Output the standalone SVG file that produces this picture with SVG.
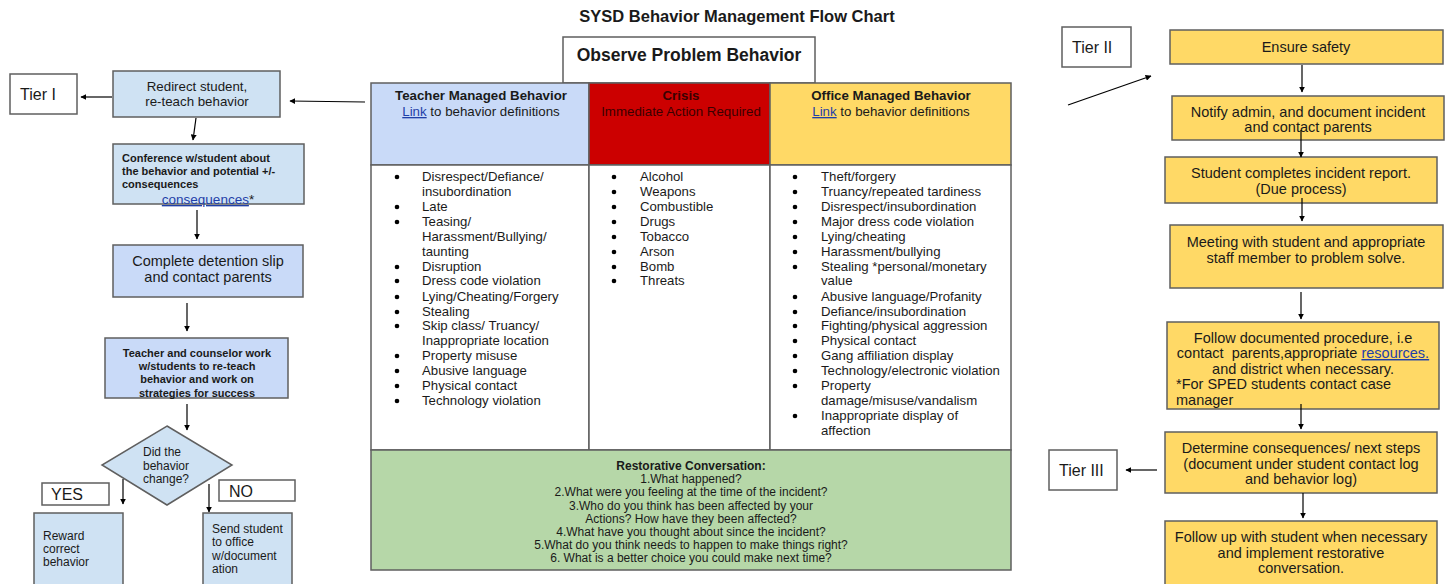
<svg xmlns="http://www.w3.org/2000/svg" width="1454" height="584" viewBox="0 0 1454 584">
<defs>
<marker id="ah" viewBox="0 0 10 10" refX="9" refY="5" markerWidth="6" markerHeight="6" orient="auto" markerUnits="userSpaceOnUse">
<path d="M0,0 L10,5 L0,10 z" fill="#000"/>
</marker>
</defs>
<style>
text{font-family:"Liberation Sans",Arial,sans-serif;fill:#1a1a1a}
.box{stroke:#5f5f5f;stroke-width:1.5}
.wb{fill:#fff}
.lb{fill:#cfe2f3}
.mb{fill:#c9daf8}
.yb{fill:#ffd966}
.t12{font-size:12px}
.t11{font-size:11px}
.t13{font-size:13.3px}
.t14{font-size:14.5px}
.t16{font-size:16px}
.lst{font-size:13.2px}
.c{text-anchor:middle}
.b{font-weight:bold}
.lnk{fill:#1f3fa8;text-decoration:underline}
.dot{fill:#000}
.con line,.con path{stroke:#000;stroke-width:1.2;fill:none;marker-end:url(#ah)}
</style>
<rect width="1454" height="584" fill="#fff"/>
<text x="737" y="22" class="c b" style="font-size:16.5px">SYSD Behavior Management Flow Chart</text>

<g id="observe">
<rect x="563" y="37" width="252" height="46" class="box wb"/>
<text x="689" y="61" class="c b" style="font-size:17.5px">Observe Problem Behavior</text>
</g>

<g id="table">
<rect x="371" y="83" width="218" height="82" fill="#c9daf8" class="box"/>
<rect x="589" y="83" width="181" height="82" fill="#cc0000" class="box"/>
<rect x="770" y="83" width="241" height="82" fill="#ffd966" class="box"/>
<rect x="371" y="165" width="218" height="285" class="box wb"/>
<rect x="589" y="165" width="181" height="285" class="box wb"/>
<rect x="770" y="165" width="241" height="285" class="box wb"/>
<text x="481" y="100" class="c b t13">Teacher Managed Behavior</text>
<text x="481" y="116" class="c t13"><tspan class="lnk">Link</tspan> to behavior definitions</text>
<text x="681" y="100" class="c b t13" style="fill:#3a0000">Crisis</text>
<text x="681" y="116" class="c t13" style="fill:#3a0000">Immediate Action Required</text>
<text x="891" y="100" class="c b t13">Office Managed Behavior</text>
<text x="891" y="116" class="c t13"><tspan class="lnk">Link</tspan> to behavior definitions</text>
</g>

<g id="teacher-list" class="lst">
<circle cx="397" cy="177" r="2.3" class="dot"/><text x="422" y="181">Disrespect/Defiance/</text>
<text x="422" y="196">insubordination</text>
<circle cx="397" cy="207" r="2.3" class="dot"/><text x="422" y="211">Late</text>
<circle cx="397" cy="222" r="2.3" class="dot"/><text x="422" y="226">Teasing/</text>
<text x="422" y="241">Harassment/Bullying/</text>
<text x="422" y="256">taunting</text>
<circle cx="397" cy="267" r="2.3" class="dot"/><text x="422" y="271">Disruption</text>
<circle cx="397" cy="281" r="2.3" class="dot"/><text x="422" y="285">Dress code violation</text>
<circle cx="397" cy="297" r="2.3" class="dot"/><text x="422" y="301">Lying/Cheating/Forgery</text>
<circle cx="397" cy="312" r="2.3" class="dot"/><text x="422" y="316">Stealing</text>
<circle cx="397" cy="326" r="2.3" class="dot"/><text x="422" y="330">Skip class/ Truancy/</text>
<text x="422" y="345">Inappropriate location</text>
<circle cx="397" cy="356" r="2.3" class="dot"/><text x="422" y="360">Property misuse</text>
<circle cx="397" cy="371" r="2.3" class="dot"/><text x="422" y="375">Abusive language</text>
<circle cx="397" cy="386" r="2.3" class="dot"/><text x="422" y="390">Physical contact</text>
<circle cx="397" cy="401" r="2.3" class="dot"/><text x="422" y="405">Technology violation</text>
</g>

<g id="crisis-list" class="lst">
<circle cx="614" cy="177" r="2.3" class="dot"/><text x="640" y="181">Alcohol</text>
<circle cx="614" cy="192" r="2.3" class="dot"/><text x="640" y="196">Weapons</text>
<circle cx="614" cy="207" r="2.3" class="dot"/><text x="640" y="211">Combustible</text>
<circle cx="614" cy="222" r="2.3" class="dot"/><text x="640" y="226">Drugs</text>
<circle cx="614" cy="237" r="2.3" class="dot"/><text x="640" y="241">Tobacco</text>
<circle cx="614" cy="252" r="2.3" class="dot"/><text x="640" y="256">Arson</text>
<circle cx="614" cy="267" r="2.3" class="dot"/><text x="640" y="271">Bomb</text>
<circle cx="614" cy="281" r="2.3" class="dot"/><text x="640" y="285">Threats</text>
</g>

<g id="office-list" class="lst">
<circle cx="795" cy="177" r="2.3" class="dot"/><text x="821" y="181">Theft/forgery</text>
<circle cx="795" cy="192" r="2.3" class="dot"/><text x="821" y="196">Truancy/repeated tardiness</text>
<circle cx="795" cy="207" r="2.3" class="dot"/><text x="821" y="211">Disrespect/insubordination</text>
<circle cx="795" cy="222" r="2.3" class="dot"/><text x="821" y="226">Major dress code violation</text>
<circle cx="795" cy="237" r="2.3" class="dot"/><text x="821" y="241">Lying/cheating</text>
<circle cx="795" cy="252" r="2.3" class="dot"/><text x="821" y="256">Harassment/bullying</text>
<circle cx="795" cy="267" r="2.3" class="dot"/><text x="821" y="271">Stealing *personal/monetary</text>
<text x="821" y="285">value</text>
<circle cx="795" cy="297" r="2.3" class="dot"/><text x="821" y="301">Abusive language/Profanity</text>
<circle cx="795" cy="312" r="2.3" class="dot"/><text x="821" y="316">Defiance/insubordination</text>
<circle cx="795" cy="326" r="2.3" class="dot"/><text x="821" y="330">Fighting/physical aggression</text>
<circle cx="795" cy="341" r="2.3" class="dot"/><text x="821" y="345">Physical contact</text>
<circle cx="795" cy="356" r="2.3" class="dot"/><text x="821" y="360">Gang affiliation display</text>
<circle cx="795" cy="371" r="2.3" class="dot"/><text x="821" y="375">Technology/electronic violation</text>
<circle cx="795" cy="386" r="2.3" class="dot"/><text x="821" y="390">Property</text>
<text x="821" y="405">damage/misuse/vandalism</text>
<circle cx="795" cy="416" r="2.3" class="dot"/><text x="821" y="420">Inappropriate display of</text>
<text x="821" y="435">affection</text>
</g>

<g id="restorative">
<rect x="371" y="450" width="640" height="120" fill="#b6d7a8" class="box"/>
<text x="691" y="470" class="c b t12">Restorative Conversation:</text>
<text x="691" y="483" class="c t12">1.What happened?</text>
<text x="691" y="496" class="c t12">2.What were you feeling at the time of the incident?</text>
<text x="691" y="510" class="c t12">3.Who do you think has been affected by your</text>
<text x="691" y="523" class="c t12">Actions? How have they been affected?</text>
<text x="691" y="536" class="c t12">4.What have you thought about since the incident?</text>
<text x="691" y="549" class="c t12">5.What do you think needs to happen to make things right?</text>
<text x="691" y="562" class="c t12">6. What is a better choice you could make next time?</text>
</g>

<g id="tier1">
<rect x="10" y="74" width="67" height="40" class="box wb"/>
<text x="20" y="100" class="t16">Tier I</text>
</g>
<g id="redirect">
<rect x="113" y="71" width="167" height="46" class="box lb"/>
<text x="197" y="91" class="c t13">Redirect student,</text>
<text x="197" y="106" class="c t13">re-teach behavior</text>
</g>
<g id="conference">
<rect x="113" y="144" width="191" height="60" class="box lb"/>
<text x="122" y="162" class="t11 b">Conference w/student about</text>
<text x="122" y="175" class="t11 b">the behavior and potential +/-</text>
<text x="122" y="188" class="t11 b">consequences</text>
<text x="208" y="204" class="c" style="font-size:13.5px"><tspan class="lnk">consequences</tspan>*</text>
</g>
<g id="detention">
<rect x="113" y="245" width="190" height="52" class="box mb"/>
<text x="208" y="266" class="c t14">Complete detention slip</text>
<text x="208" y="282" class="c t14">and contact parents</text>
</g>
<g id="counselor">
<rect x="105" y="338" width="183" height="60" class="box mb"/>
<text x="197" y="357" class="c b t11">Teacher and counselor work</text>
<text x="197" y="370" class="c b t11">w/students to re-teach</text>
<text x="197" y="383" class="c b t11">behavior and work on</text>
<text x="197" y="397" class="c b t11">strategies for success</text>
</g>
<g id="decision">
<path d="M167,426 L232,465 L167,505 L102,465 Z" class="box lb"/>
<text x="143" y="456" class="t12">Did the</text>
<text x="143" y="470" class="t12">behavior</text>
<text x="143" y="483" class="t12">change?</text>
</g>
<g id="yes">
<rect x="42" y="483" width="67" height="22" class="box wb"/>
<text x="51" y="500" class="t16">YES</text>
</g>
<g id="no">
<rect x="219" y="480" width="76" height="21" class="box wb"/>
<text x="229" y="497" class="t16">NO</text>
</g>
<g id="reward">
<rect x="34" y="513" width="89" height="75" class="box lb"/>
<text x="43" y="540" class="t12">Reward</text>
<text x="43" y="553" class="t12">correct</text>
<text x="43" y="566" class="t12">behavior</text>
</g>
<g id="send">
<rect x="203" y="513" width="89" height="75" class="box lb"/>
<text x="212" y="533" class="t12">Send student</text>
<text x="212" y="546" class="t12">to office</text>
<text x="212" y="560" class="t12">w/document</text>
<text x="212" y="573" class="t12">ation</text>
</g>

<g id="tier2">
<rect x="1062" y="27" width="69" height="40" class="box wb"/>
<text x="1072" y="53" class="t16">Tier II</text>
</g>
<g id="safety">
<rect x="1170" y="30" width="273" height="34" class="box yb"/>
<text x="1306" y="52" class="c t14">Ensure safety</text>
</g>
<g id="notify">
<rect x="1172" y="96" width="272" height="44" class="box yb"/>
<text x="1308" y="117" class="c t14">Notify admin, and document incident</text>
<text x="1308" y="132" class="c t14">and contact parents</text>
</g>
<g id="report">
<rect x="1165" y="157" width="272" height="46" class="box yb"/>
<text x="1301" y="178" class="c t14">Student completes incident report.</text>
<text x="1301" y="194" class="c t14">(Due process)</text>
</g>
<g id="meeting">
<rect x="1170" y="225" width="273" height="63" class="box yb"/>
<text x="1306" y="247" class="c t14">Meeting with student and appropriate</text>
<text x="1306" y="263" class="c t14">staff member to problem solve.</text>
</g>
<g id="procedure">
<rect x="1167" y="322" width="272" height="87" class="box yb"/>
<text x="1303" y="343" class="c t14">Follow documented procedure, i.e</text>
<text x="1303" y="358" class="c t14" xml:space="preserve">contact  parents,appropriate <tspan class="lnk">resources.</tspan></text>
<text x="1303" y="374" class="c t14">and district when necessary.</text>
<text x="1176" y="389" class="t14">*For SPED students contact case</text>
<text x="1176" y="405" class="t14">manager</text>
</g>
<g id="determine">
<rect x="1165" y="432" width="272" height="61" class="box yb"/>
<text x="1301" y="453" class="c t14">Determine consequences/ next steps</text>
<text x="1301" y="469" class="c t14">(document under student contact log</text>
<text x="1301" y="484" class="c t14">and behavior log)</text>
</g>
<g id="tier3">
<rect x="1049" y="450" width="68" height="40" class="box wb"/>
<text x="1059" y="476" class="t16">Tier III</text>
</g>
<g id="followup">
<rect x="1165" y="521" width="272" height="67" class="box yb"/>
<text x="1301" y="542" class="c t14">Follow up with student when necessary</text>
<text x="1301" y="558" class="c t14">and implement restorative</text>
<text x="1301" y="573" class="c t14">conversation.</text>
</g>

<g id="connectors" class="con">
<line x1="365" y1="102" x2="290" y2="101"/>
<line x1="112" y1="97" x2="81" y2="97"/>
<line x1="196" y1="118" x2="193" y2="140"/>
<line x1="197" y1="210" x2="197" y2="239"/>
<line x1="187" y1="303" x2="187" y2="331"/>
<line x1="187" y1="404" x2="187" y2="430"/>
<line x1="123" y1="479" x2="123" y2="504"/>
<line x1="209" y1="484" x2="209" y2="512"/>
<line x1="1068" y1="105" x2="1151" y2="76"/>
<line x1="1302" y1="65" x2="1302" y2="92"/>
<line x1="1301" y1="130" x2="1301" y2="157"/>
<line x1="1302" y1="198" x2="1302" y2="221"/>
<line x1="1301" y1="292" x2="1301" y2="319"/>
<line x1="1301" y1="404" x2="1301" y2="429"/>
<line x1="1157" y1="470" x2="1126" y2="470"/>
<line x1="1303" y1="493" x2="1303" y2="518"/>
</g>
</svg>
